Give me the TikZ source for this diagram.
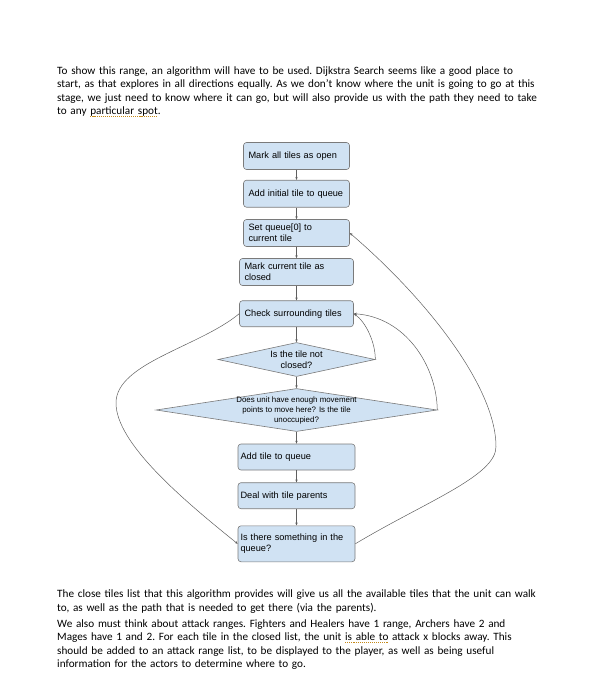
\documentclass[tikz,border=0pt]{standalone}
\usepackage{fontspec}
\setmainfont{Carlito}
\newfontfamily\chartfont{Liberation Sans}
\usetikzlibrary{arrows.meta,shapes.geometric}

\definecolor{tilefill}{HTML}{D0E2F3}
\definecolor{tileline}{HTML}{7A7A7A}
\definecolor{linkline}{HTML}{5F5F5F}
\definecolor{spellcol}{HTML}{C58A1A}

\newsavebox{\spellbox}
\newcommand{\spellmark}[1]{\sbox{\spellbox}{#1}%
  \rlap{\textcolor{spellcol}{\raisebox{-2.4pt}{\hbox to \wd\spellbox{\xleaders\hbox{\rule{1.1pt}{0.8pt}\hskip0.9pt}\hfill}}}}%
  \usebox{\spellbox}}

\tikzset{
  para/.style={anchor=north west, inner sep=0pt, text width=520pt, align=left,
    font=\fontsize{11.2}{13.3}\selectfont\frenchspacing},
  tile/.style={rectangle, rounded corners=3pt, draw=tileline, fill=tilefill,
    line width=0.6pt, font=\chartfont\fontsize{9.2}{10.6}\selectfont, align=left,
    inner xsep=5pt, inner ysep=0pt, minimum height=27pt, text width=96pt},
  choice/.style={diamond, draw=tileline, fill=tilefill, line width=0.6pt, inner sep=0pt},
  choicetext/.style={align=center, inner sep=0pt, font=\chartfont\fontsize{9.2}{11.5}\selectfont},
  link/.style={draw=linkline, line width=0.5pt, -{Stealth[length=3pt,width=2.4pt]}}
}

\begin{document}
\begin{tikzpicture}[x=1pt,y=-1pt]
\useasboundingbox (0,0) rectangle (602,686);

% text around the chart
\node[para] (intro) at (57,65) {\strut To show this range, an algorithm will have to be used. Dijkstra Search seems like a good place to\\
start, as that explores in all directions equally. As we don’t know where the unit is going to go at this\\
stage, we just need to know where it can go, but will also provide us with the path they need to take\\
to any \spellmark{particular spot}.};
\node[para] (closedlist) at (57,588.3) {\strut The close tiles list that this algorithm provides will give us all the available tiles that the unit can walk\\
to, as well as the path that is needed to get there (via the parents).};
\node[para] (ranges) at (57,618) {\strut We also must think about attack ranges. Fighters and Healers have 1 range, Archers have 2 and\\
Mages have 1 and 2. For each tile in the closed list, the unit \spellmark{is able to} attack x blocks away. This\\
should be added to an attack range list, to be displayed to the player, as well as being useful\\
information for the actors to determine where to go.};

% flowchart
\node[tile] (allopen) at (296.5,156) {Mark all tiles as open};
\node[tile] (addfirst) at (296.5,193.7) {Add initial tile to queue};
\node[tile] (setcur) at (296.5,233) {Set queue[0] to\\current tile};
\node[tile, text width=104pt] (markclosed) at (296.5,272) {Mark current tile as\\closed};
\node[tile, text width=104pt, minimum height=26pt] (check) at (296.5,313.7) {Check surrounding tiles};
\node[choice, minimum width=157pt, minimum height=34pt,
  label={[choicetext]center:{Is the tile not\\closed?}}] (notclosed) at (296.5,359.5) {};
\node[choice, minimum width=281pt, minimum height=43pt,
  label={[choicetext, font=\chartfont\fontsize{7.9}{10}\selectfont]center:{Does unit have enough movement\\points to move here? Is the tile\\unoccupied?}}] (enough) at (296.5,410) {};
\node[tile, text width=112pt, inner xsep=2.5pt, minimum height=26pt] (addq) at (296.5,457) {Add tile to queue};
\node[tile, text width=112pt, inner xsep=2.5pt, minimum height=26pt] (parents) at (296.5,495.7) {Deal with tile parents};
\node[tile, text width=112pt, inner xsep=2.5pt, minimum height=36pt] (anyleft) at (296.5,543.8) {Is there something in the\\queue?};

\foreach \a/\b in {allopen/addfirst, addfirst/setcur, setcur/markclosed, markclosed/check,
  check/notclosed, notclosed/enough, enough/addq, addq/parents, parents/anyleft}
  \draw[link] (\a) -- (\b);

\draw[link] (check.west) .. controls (199,347) and (116,363) .. (116,403)
  .. controls (116,443) and (182,499) .. (anyleft.west);
\draw[link] (anyleft.east) .. controls (425,502) and (496,476) .. (496,446.7)
  .. controls (496,386.7) and (426,298.4) .. (setcur.east);
\draw[link] (notclosed.east) .. controls (375.5,343) and (366,322) .. (check.east);
\draw[link] (enough.east) .. controls (436.5,365) and (405,317) .. (check.east);
\end{tikzpicture}
\end{document}
